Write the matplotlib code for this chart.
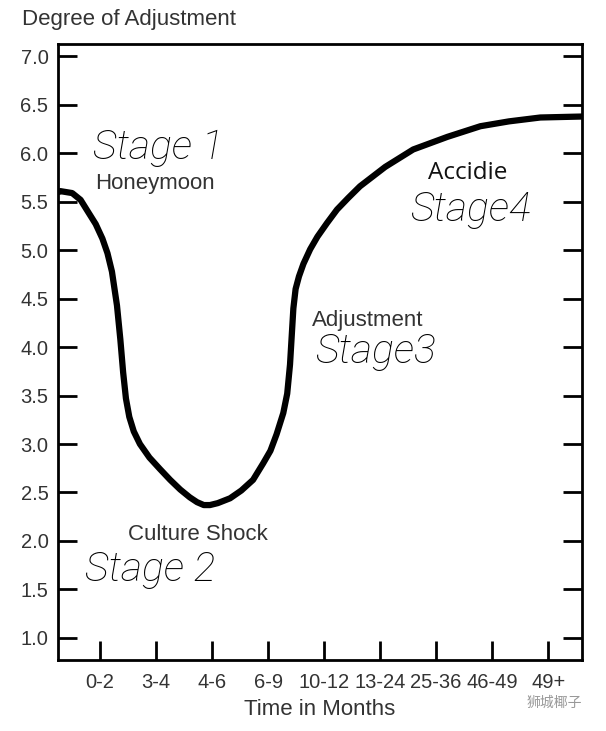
import matplotlib
matplotlib.use("Agg")
import matplotlib.pyplot as plt

# -----------------------------------------------
periods = ["0-2", "3-4", "4-6", "6-9", "10-12", "13-24", "25-36", "46-49", "49+"]
tick_pos = [1, 2, 3, 4, 5, 6, 7, 8, 9]
y_ticks = [1.0, 1.5, 2.0, 2.5, 3.0, 3.5, 4.0, 4.5, 5.0, 5.5, 6.0, 6.5, 7.0]

# curve (x in tick units, y = degree of adjustment)
curve_x = [0.25, 0.29, 0.50, 0.65, 0.79, 0.92, 1.04, 1.13, 1.21, 1.30, 1.36,
           1.41, 1.46, 1.52, 1.60, 1.71, 1.88, 2.07, 2.25, 2.43, 2.60, 2.73,
           2.85, 2.96, 3.10, 3.32, 3.52, 3.73, 3.91, 4.04, 4.15, 4.27, 4.34,
           4.39, 4.45, 4.49, 4.55, 4.63, 4.75, 4.88, 5.05, 5.23, 5.43, 5.64,
           6.09, 6.59, 7.2, 7.79, 8.3, 8.86, 9.6]
curve_y = [5.60, 5.61, 5.59, 5.52, 5.39, 5.27, 5.12, 4.97, 4.78, 4.43, 4.08,
           3.74, 3.47, 3.28, 3.13, 3.00, 2.86, 2.74, 2.63, 2.53, 2.45, 2.40,
           2.37, 2.37, 2.39, 2.44, 2.52, 2.63, 2.80, 2.93, 3.10, 3.32, 3.52,
           3.82, 4.40, 4.60, 4.73, 4.86, 5.01, 5.14, 5.28, 5.42, 5.54, 5.66,
           5.86, 6.04, 6.17, 6.28, 6.33, 6.37, 6.38]

stage_names = ["Honeymoon", "Culture Shock", "Adjustment", "Accidie"]
stage_labels = ["Stage 1", "Stage 2", "Stage3", "Stage4"]

plt.rcParams['font.family'] = ['Liberation Sans', 'DejaVu Sans']


# -----------------------------------------------
def main():
    fig = plt.figure(figsize=(6.06, 7.31), dpi=100)
    ax = fig.add_axes([0.096, 0.097, 0.864, 0.843])

    ax.plot(curve_x, curve_y, color="black", linewidth=4.5,
            solid_joinstyle="round", solid_capstyle="round")

    ax.set_xlim(0.25, 9.6)
    ax.set_ylim(0.77, 7.13)
    ax.set_xticks(tick_pos)
    ax.set_xticklabels(periods)
    ax.set_yticks(y_ticks)
    ax.set_yticklabels(["%.1f" % v for v in y_ticks])

    ax.tick_params(axis="both", direction="in", length=14, width=2,
                   labelsize=14.5, labelcolor="#333333", color="black")
    ax.tick_params(axis="y", right=True, pad=7)
    ax.tick_params(axis="x", pad=9)
    for s in ax.spines.values():
        s.set_linewidth(2)

    ax.set_xlabel("Time in Months", fontsize=16, color="#333333", labelpad=5)
    fig.text(0.036, 0.973, "Degree of Adjustment", fontsize=16,
             color="#333333", va="center")

    # stage captions
    ax.text(0.91, 5.69, stage_names[0], fontsize=16, color="#333333", va="center")
    ax.text(1.5, 2.07, stage_names[1], fontsize=16, color="#333333", va="center")
    ax.text(4.79, 4.28, stage_names[2], fontsize=16, color="#333333", va="center")
    ax.text(6.86, 5.80, stage_names[3], fontsize=17.5, color="#111111", va="center",
            family="Open Sans")

    hand = dict(fontsize=29.5, color="black", va="center", family="Roboto",
                fontweight="light", style="italic")
    ax.text(0.875, 6.06, stage_labels[0], **hand)
    ax.text(0.73, 1.70, stage_labels[1], **hand)
    ax.text(4.84, 3.95, stage_labels[2], **hand)
    ax.text(6.54, 5.42, stage_labels[3], **hand)

    fig.text(0.915, 0.038, "狮城椰子", fontsize=10, color="#999999",
             ha="center", va="center", family=["Noto Sans CJK SC", "DejaVu Sans"])

    fig.savefig("out.png", dpi=100)


if __name__ == "__main__":
    main()
